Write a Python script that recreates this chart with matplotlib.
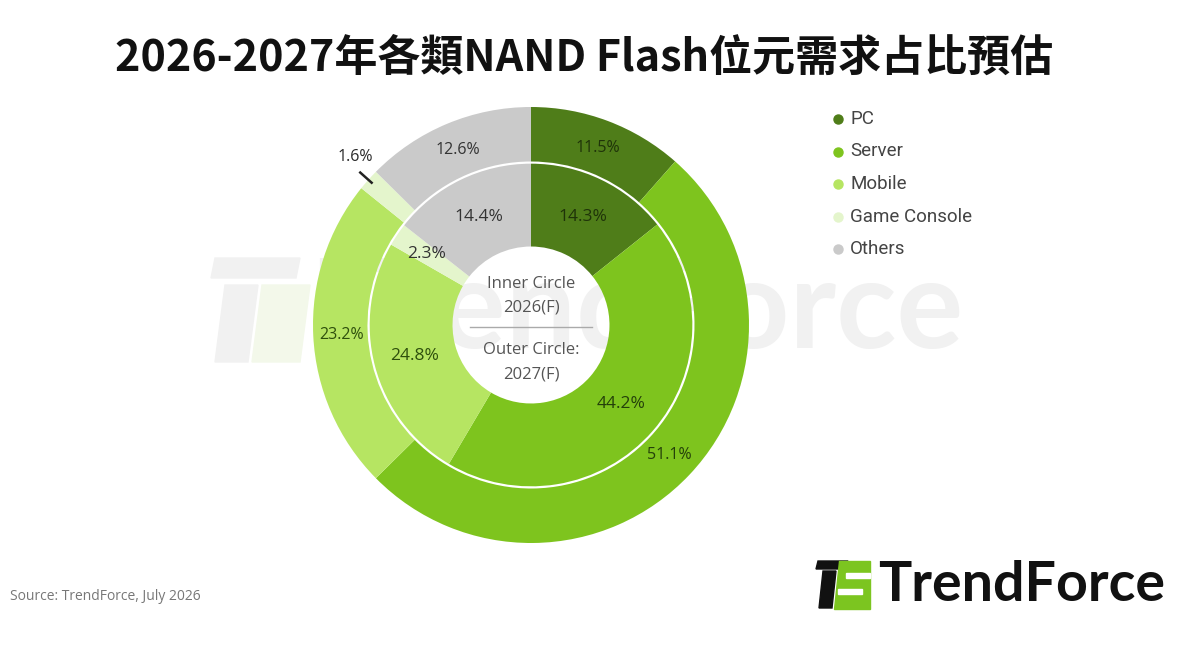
import numpy as np
import matplotlib.pyplot as plt
from matplotlib.lines import Line2D
from matplotlib.patches import Polygon, Rectangle

plt.rcParams['font.family'] = ['Open Sans', 'DejaVu Sans']

# data
categories = ["PC", "Server", "Mobile", "Game Console", "Others"]
share_2026 = [14.3, 44.2, 24.8, 2.3, 14.4]   # inner circle
share_2027 = [11.5, 51.1, 23.2, 1.6, 12.6]   # outer circle
colors = ["#4f7d19", "#7ec41e", "#b6e562", "#e4f5cc", "#cacaca"]
label_colors = ["#1f3309", "#24400a", "#2e4f0c", "#333333", "#333333"]

title = "2026-2027年各類NAND Flash位元需求占比預估"
source = "Source: TrendForce, July 2026"

W, H = 1200, 666
fig = plt.figure(figsize=(W / 100, H / 100), dpi=100)
tr = fig.transFigure


def px(x, y):
    # pixel (from top-left) -> figure fraction
    return x / W, 1 - y / H


# faint watermark, behind the pie
fig.add_artist(Polygon([px(215, 258), px(300, 258), px(296, 278), px(211, 278)],
                       closed=True, color='#f1f1f1', transform=tr, zorder=-2))
fig.add_artist(Polygon([px(225, 285), px(258, 285), px(248, 362), px(215, 362)],
                       closed=True, color='#f1f1f1', transform=tr, zorder=-2))
fig.add_artist(Polygon([px(262, 285), px(310, 285), px(300, 362), px(252, 362)],
                       closed=True, color='#f3f8ea', transform=tr, zorder=-2))
fig.text(*px(640, 312), "TrendForce", ha='center', va='center', fontsize=90,
         fontweight='bold', family=['Lato', 'DejaVu Sans'], color='#f1f1f1', zorder=-1)

# pie axes: centre (531, 325) px, outer radius 218 px
cx, cy, R = 531, 325, 218
lim = 1.3
half = lim * R
ax = fig.add_axes([(cx - half) / W, (H - cy - half) / H, 2 * half / W, 2 * half / H])
ax.axis('off')

outer_wedges, _ = ax.pie(share_2027, radius=1.0, colors=colors, startangle=90,
                         counterclock=False, wedgeprops=dict(width=0.25, edgecolor='none'))
inner_wedges, _ = ax.pie(share_2026, radius=0.74, colors=colors, startangle=90,
                         counterclock=False, wedgeprops=dict(width=0.38, edgecolor='none'))
ax.set_xlim(-lim, lim)
ax.set_ylim(-lim, lim)
ax.set_aspect('equal')


def mid_angle(w):
    return np.deg2rad((w.theta1 + w.theta2) / 2)


# outer labels
for w, v, lc in zip(outer_wedges, share_2027, label_colors):
    a = mid_angle(w)
    if v < 5:
        ax.plot([0.98 * np.cos(a), 1.05 * np.cos(a)], [0.98 * np.sin(a), 1.05 * np.sin(a)],
                color='#222222', lw=1.8)
        ax.text(1.115 * np.cos(a) + 0.025, 1.115 * np.sin(a) + 0.028, f"{v}%", ha='center',
                va='center', fontsize=11.5, color='#2a2a2a')
    else:
        ax.text(0.87 * np.cos(a), 0.87 * np.sin(a), f"{v}%", ha='center', va='center',
                fontsize=11.5, color=lc)

# inner labels
for w, v, lc in zip(inner_wedges, share_2026, label_colors):
    a = mid_angle(w)
    r = 0.58 if v < 5 else 0.55
    ax.text(r * np.cos(a), r * np.sin(a), f"{v}%", ha='center', va='center',
            fontsize=12.5, color=lc)

# centre text
ax.text(0, 0.19, "Inner Circle", ha='center', va='center', fontsize=12, color='#555555')
ax.text(0, 0.08, "2026(F)", ha='center', va='center', fontsize=12, color='#555555')
ax.plot([-0.28, 0.28], [-0.01, -0.01], color='#aaaaaa', lw=1)
ax.text(0, -0.115, "Outer Circle:", ha='center', va='center', fontsize=12, color='#555555')
ax.text(0, -0.225, "2027(F)", ha='center', va='center', fontsize=12, color='#555555')

# title
fig.text(*px(584, 58), title, ha='center', va='center', fontsize=31, fontweight='bold',
         family=['Noto Sans CJK TC', 'DejaVu Sans'], color='#111111')

# legend
for i, (name, c) in enumerate(zip(categories, colors)):
    y = 119 + i * 32.5
    fig.add_artist(Line2D([px(838, y)[0]], [px(838, y)[1]], marker='o', markersize=6.5,
                          color=c, transform=tr, linestyle='none'))
    fig.text(*px(850, y), name, ha='left', va='center', fontsize=13.5, color='#444444',
             family=['Roboto', 'DejaVu Sans'])

# source
fig.text(*px(10, 597), source, ha='left', va='center', fontsize=10, color='#777777')

# TrendForce logo
fig.add_artist(Polygon([px(818, 561), px(848, 561), px(846, 569), px(816, 569)],
                       closed=True, color='#111111', transform=tr))
fig.add_artist(Polygon([px(823, 571), px(836, 571), px(832, 608), px(819, 608)],
                       closed=True, color='#111111', transform=tr))
fig.add_artist(Polygon([px(839, 561), px(870, 561), px(870, 609), px(834, 609)],
                       closed=True, color='#7cc520', transform=tr))
fig.add_artist(Rectangle(px(846, 578), 24 / W, 5 / H, color='white', transform=tr))
fig.add_artist(Rectangle(px(838, 594), 24 / W, 5 / H, color='white', transform=tr))
fig.text(*px(878, 585), "TrendForce", ha='left', va='center', fontsize=40, fontweight='bold',
         family=['Lato', 'DejaVu Sans'], color='#111111')

fig.savefig("out.png", dpi=100, facecolor='white')
